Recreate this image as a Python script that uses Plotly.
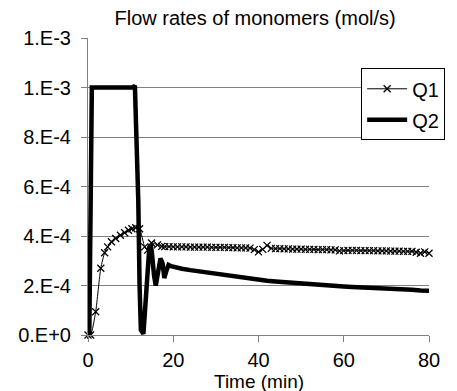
import plotly.graph_objects as go

# ---- data ----
q1_time = [0, 0.6, 1.8, 3.0, 3.9, 4.6, 5.5, 6.5, 7.6, 8.6, 9.5, 10.3, 11.2, 12.1, 13.3, 14.0, 14.9, 16.3, 17.3,
           18, 19, 20, 21, 22, 23, 24, 25, 26, 27, 28, 29, 30, 31, 32, 33, 34, 35, 36, 37, 38,
           39, 40, 41, 42, 43,
           44, 45, 46, 47, 48, 49, 50, 51, 52, 53, 54, 55, 56, 57, 58,
           59, 60,
           61, 62, 63, 64, 65, 66, 67, 68, 69, 70, 71, 72, 73, 74, 75, 76,
           77, 78, 79, 80]
q1_flow = [0, 0, 0.94e-4, 2.70e-4, 3.32e-4, 3.56e-4, 3.77e-4, 3.90e-4, 4.03e-4, 4.13e-4, 4.23e-4, 4.29e-4, 4.33e-4,
           4.29e-4, 3.56e-4, 3.43e-4, 3.72e-4, 3.64e-4, 3.58e-4,
           3.57e-4, 3.57e-4, 3.56e-4, 3.56e-4, 3.56e-4, 3.56e-4, 3.55e-4, 3.55e-4, 3.55e-4, 3.55e-4, 3.55e-4,
           3.54e-4, 3.54e-4, 3.54e-4, 3.54e-4, 3.53e-4, 3.53e-4, 3.52e-4, 3.52e-4, 3.52e-4, 3.51e-4,
           3.45e-4, 3.36e-4, 3.46e-4, 3.62e-4, 3.50e-4,
           3.49e-4, 3.49e-4, 3.48e-4, 3.48e-4, 3.47e-4, 3.47e-4, 3.47e-4, 3.46e-4, 3.46e-4, 3.46e-4, 3.45e-4,
           3.45e-4, 3.45e-4, 3.44e-4, 3.44e-4,
           3.40e-4, 3.41e-4,
           3.42e-4, 3.42e-4, 3.42e-4, 3.41e-4, 3.41e-4, 3.41e-4, 3.41e-4, 3.40e-4, 3.40e-4, 3.40e-4, 3.39e-4,
           3.39e-4, 3.39e-4, 3.38e-4, 3.38e-4, 3.38e-4,
           3.34e-4, 3.30e-4, 3.36e-4, 3.30e-4]

q2_time = [0, 0.3, 0.9, 5, 10.6, 11.0, 11.3, 11.8, 12.1, 12.4,
           13.0, 13.6, 14.1, 14.4, 14.7, 15.0, 15.5, 15.9, 16.4, 17.0,
           17.5, 17.9, 18.4, 18.9, 19.5, 20.8, 22, 24, 26, 28,
           30, 32, 34, 36, 38, 40, 42, 44, 46, 48,
           50, 52, 54, 56, 58, 60, 62, 64, 66, 68,
           70, 72, 74, 76, 78, 80]
q2_flow = [0, 0, 10.0e-4, 10.0e-4, 10.0e-4, 10.08e-4, 8.5e-4, 5.4e-4, 2.0e-4, 0.2e-4,
           0.05e-4, 1.44e-4, 3.0e-4, 3.56e-4, 3.65e-4, 3.3e-4, 2.4e-4, 2.0e-4, 2.5e-4, 3.1e-4,
           2.9e-4, 2.3e-4, 2.6e-4, 2.83e-4, 2.78e-4, 2.72e-4, 2.68e-4, 2.62e-4, 2.57e-4, 2.53e-4,
           2.48e-4, 2.42e-4, 2.37e-4, 2.31e-4, 2.27e-4, 2.23e-4, 2.19e-4, 2.16e-4, 2.13e-4, 2.10e-4,
           2.07e-4, 2.04e-4, 2.01e-4, 1.99e-4, 1.97e-4, 1.96e-4, 1.94e-4, 1.93e-4, 1.91e-4, 1.90e-4,
           1.88e-4, 1.87e-4, 1.84e-4, 1.83e-4, 1.80e-4, 1.79e-4]

y_tickvals = [0, 2e-4, 4e-4, 6e-4, 8e-4, 1.0e-3, 1.2e-3]
y_ticktext = ["0.E+0", "2.E-4", "4.E-4", "6.E-4", "8.E-4", "1.E-3", "1.E-3"]
x_tickvals = [0, 20, 40, 60, 80]
x_ticktext = ["0", "20", "40", "60", "80"]

FONT = "Liberation Sans, Arial, sans-serif"
GRID = "#808080"

fig = go.Figure()
fig.add_trace(go.Scatter(
    x=q1_time, y=q1_flow, name="Q1", mode="lines+markers", legendgroup="a",
    line=dict(color="black", width=1, shape="spline", smoothing=0.6),
    marker=dict(symbol="x-thin", size=7, color="black", line=dict(color="black", width=1.3)),
    cliponaxis=False,
))
fig.add_trace(go.Scatter(
    x=q2_time, y=q2_flow, name="Q2", mode="lines", legendgroup="b",
    line=dict(color="black", width=4.5),
))

fig.update_layout(
    width=457, height=391,
    margin=dict(l=88, r=14, t=38, b=56),
    paper_bgcolor="white", plot_bgcolor="white",
    font=dict(family=FONT, size=20, color="black"),
    title=dict(text="Flow rates of monomers (mol/s)", xref="paper", x=0.49, xanchor="center",
               y=0.953, yanchor="middle", font=dict(size=20)),
    showlegend=True,
    legend=dict(x=0.801, y=0.898, xanchor="left", yanchor="top", bgcolor="white",
                bordercolor="black", borderwidth=1, font=dict(size=20),
                traceorder="grouped", tracegroupgap=2, itemwidth=40),
    xaxis=dict(range=[0, 80], tickvals=x_tickvals, ticktext=x_ticktext, showgrid=False,
               showline=True, linecolor=GRID, linewidth=1, ticks="outside", ticklen=6,
               tickcolor=GRID, zeroline=False, fixedrange=True, ticklabelstandoff=1),
    yaxis=dict(range=[0, 1.2e-3], tickvals=y_tickvals, ticktext=y_ticktext, showgrid=True,
               gridcolor=GRID, gridwidth=1, showline=True, linecolor=GRID, linewidth=1,
               ticks="outside", ticklen=6, tickcolor=GRID, zeroline=False,
               ticklabelstandoff=6),
    annotations=[dict(text="Time (min)", xref="paper", yref="paper", x=0.5, y=-0.158,
                      xanchor="center", yanchor="middle", showarrow=False,
                      font=dict(size=19, family=FONT))],
)

fig.write_html("out.html")
